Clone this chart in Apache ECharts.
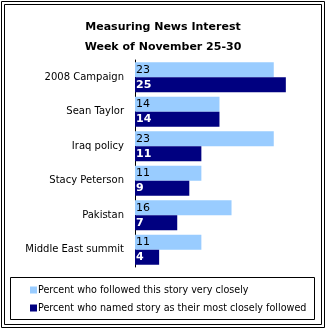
<!DOCTYPE html>
<html>
<head>
<meta charset="utf-8">
<script src="https://cdn.jsdelivr.net/npm/echarts@6/dist/echarts.min.js"></script>
<style>
  html, body { margin: 0; padding: 0; background: #fff; }
  #chart { width: 326px; height: 329px; }
</style>
</head>
<body>
<div id="chart"></div>
<script>
// News stories tracked during the week
const categories = ['2008 Campaign', 'Sean Taylor', 'Iraq policy', 'Stacy Peterson', 'Pakistan', 'Middle East summit'];
// Percent who followed each story very closely
const followedVeryClosely = [23, 14, 23, 11, 16, 11];
// Percent who named each story as their most closely followed
const mostClosely = [25, 14, 11, 9, 7, 4];

const seriesNames = [
  'Percent who followed this story very closely',
  'Percent who named story as their most closely followed'
];

const FONT = 'DejaVu Sans';
const chart = echarts.init(document.getElementById('chart'), null, { renderer: 'canvas' });

chart.setOption({
  animation: false,
  backgroundColor: '#fff',
  title: {
    text: 'Measuring News Interest\nWeek of November 25-30',
    left: 'center',
    top: 12,
    textStyle: { fontFamily: FONT, fontSize: 11, fontWeight: 'bold', color: '#000', lineHeight: 20 }
  },
  grid: { left: 135, top: 60, width: 181, height: 207 },
  xAxis: {
    type: 'value', min: 0, max: 30, show: false
  },
  yAxis: {
    type: 'category',
    data: categories,
    inverse: true,
    axisLine: { lineStyle: { color: '#000', width: 1 } },
    axisTick: { show: false },
    axisLabel: { fontFamily: FONT, fontSize: 10, color: '#000', margin: 11 }
  },
  legend: {
    orient: 'vertical',
    left: 25,
    top: 280,
    itemWidth: 7,
    itemHeight: 7,
    itemGap: 8,
    icon: 'rect',
    selectedMode: false,
    textStyle: { fontFamily: FONT, fontSize: 9.6, color: '#000', padding: [0, 0, 0, -4] },
    data: seriesNames
  },
  graphic: [
    { type: 'rect', shape: { x: 1.5, y: 1.5, width: 323, height: 326 }, style: { fill: 'none', stroke: '#000', lineWidth: 1 }, silent: true },
    { type: 'rect', shape: { x: 4.5, y: 4.5, width: 317, height: 320 }, style: { fill: 'none', stroke: '#000', lineWidth: 1 }, silent: true },
    { type: 'rect', shape: { x: 10.5, y: 277.5, width: 304, height: 42 }, style: { fill: 'none', stroke: '#000', lineWidth: 1 }, silent: true }
  ],
  series: [
    {
      name: seriesNames[0],
      type: 'bar',
      data: followedVeryClosely,
      barWidth: 15,
      barGap: '0%',
      itemStyle: { color: '#99ccff' },
      label: {
        show: true, position: 'insideLeft', offset: [-4, 0],
        fontFamily: FONT, fontSize: 11, color: '#000'
      }
    },
    {
      name: seriesNames[1],
      type: 'bar',
      data: mostClosely,
      barWidth: 15,
      itemStyle: { color: '#000080' },
      label: {
        show: true, position: 'insideLeft', offset: [-4, 0],
        fontFamily: FONT, fontSize: 11, fontWeight: 'bold', color: '#fff'
      }
    }
  ]
});
</script>
</body>
</html>
